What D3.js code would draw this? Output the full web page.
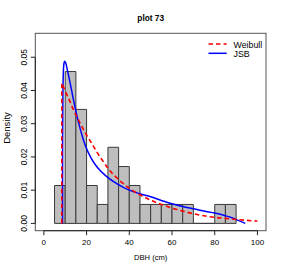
<!DOCTYPE html>
<html>
<head>
<meta charset="utf-8">
<script src="https://cdn.jsdelivr.net/npm/d3@7"></script>
<style>
  body { margin: 0; background: #fff; }
  text { font-family: 'Liberation Sans', Arial, sans-serif; fill: #000; }
</style>
</head>
<body>
<svg width="284" height="273"></svg>
<script>
// histogram bins (left edge, bin width 5) and densities
const binLeft = [5, 10, 15, 20, 25, 30, 35, 40, 45, 50, 55, 60, 65, 70, 75, 80, 85];
const binDensity = [0.0114, 0.0457, 0.0343, 0.0114, 0.0057, 0.0229, 0.0171, 0.0114,
    0.0057, 0.0057, 0.0057, 0.0057, 0.0057, 0, 0, 0.0057, 0.0057];
const binWidth = 5;

// fitted curves, points
const weibullX = [8.4, 8.42, 9, 10, 12, 14, 16, 18, 20, 22, 25, 28, 31, 35, 40, 45, 50,
    55, 60, 65, 70, 75, 80, 85, 90, 95, 100];
const weibullY = [0, 0.0422, 0.0414, 0.0398, 0.0370, 0.0340, 0.0314, 0.0289, 0.0266,
    0.0245, 0.0213, 0.0184, 0.0158, 0.0132, 0.0106, 0.0086, 0.0070, 0.0057, 0.0046,
    0.0037, 0.0029, 0.0023, 0.0018, 0.0015, 0.0012, 0.0009, 0.0007];

const jsbX = [8.75, 8.8, 8.95, 9.2, 9.5, 9.8, 10.3, 11, 12, 13, 14, 15, 16, 17, 18,
    19.5, 22, 25, 29.6, 34.3, 40, 45, 50, 55, 60, 65, 70, 75, 80, 85, 88, 91, 94.3];
const jsbY = [0, 0.025, 0.040, 0.0465, 0.0484, 0.0488, 0.0482, 0.0462, 0.0432, 0.0400,
    0.0368, 0.0338, 0.0310, 0.0285, 0.0262, 0.0233, 0.0198, 0.0169, 0.0140, 0.0119,
    0.0100, 0.0089, 0.0080, 0.0069, 0.0059, 0.0051, 0.0044, 0.0037, 0.0031, 0.0023,
    0.0017, 0.0009, 0];

const xTicks = [0, 20, 40, 60, 80, 100];
const yTicks = [0, 0.01, 0.02, 0.03, 0.04, 0.05];
const legendLabels = ['Weibull', 'JSB'];

const svg = d3.select('svg');
const plotLeft = 35.3, plotRight = 266, plotTop = 33.3, plotBottom = 230.7;

const x = d3.scaleLinear().domain([-4, 104]).range([plotLeft, plotRight]);
const y = d3.scaleLinear().domain([-0.0022, 0.0572]).range([plotBottom, plotTop]);

// bars (zero-height bins still get their baseline, like R)
svg.append('g')
    .selectAll('path')
    .data(binLeft.map((b, i) => ({ x0: b, x1: b + binWidth, d: binDensity[i] })))
    .enter().append('path')
    .attr('d', d => {
        const x0 = x(d.x0), x1 = x(d.x1), y0 = y(0), y1 = y(d.d);
        return `M${x0},${y0}L${x0},${y1}L${x1},${y1}L${x1},${y0}Z`;
    })
    .attr('fill', '#bebebe')
    .attr('stroke', '#3a3a3a')
    .attr('stroke-width', 1);

const line = d3.line()
    .x(d => x(d[0]))
    .y(d => y(d[1]))
    .curve(d3.curveMonotoneX);

svg.append('path')
    .datum(jsbX.map((v, i) => [v, jsbY[i]]))
    .attr('d', line)
    .attr('fill', 'none')
    .attr('stroke', '#0000ff')
    .attr('stroke-width', 1.5);

svg.append('path')
    .datum(weibullX.map((v, i) => [v, weibullY[i]]))
    .attr('d', line)
    .attr('fill', 'none')
    .attr('stroke', '#ff0000')
    .attr('stroke-width', 1.6)
    .attr('stroke-dasharray', '4.5,3');

// box
svg.append('rect')
    .attr('x', plotLeft).attr('y', plotTop)
    .attr('width', plotRight - plotLeft).attr('height', plotBottom - plotTop)
    .attr('fill', 'none')
    .attr('stroke', '#555')
    .attr('stroke-width', 1);

// x axis
const xAxis = svg.append('g');
xAxis.append('line')
    .attr('x1', x(0)).attr('x2', x(100))
    .attr('y1', plotBottom).attr('y2', plotBottom)
    .attr('stroke', '#222');
xAxis.selectAll('.tick')
    .data(xTicks)
    .enter().append('line')
    .attr('x1', d => x(d)).attr('x2', d => x(d))
    .attr('y1', plotBottom).attr('y2', plotBottom + 4.5)
    .attr('stroke', '#222');
xAxis.selectAll('text')
    .data(xTicks)
    .enter().append('text')
    .attr('x', d => x(d))
    .attr('y', 242.7)
    .attr('text-anchor', 'middle')
    .attr('dominant-baseline', 'central')
    .attr('font-size', 8)
    .text(d => d);

// y axis
const yAxis = svg.append('g');
yAxis.append('line')
    .attr('x1', plotLeft).attr('x2', plotLeft)
    .attr('y1', y(0)).attr('y2', y(0.05))
    .attr('stroke', '#222');
yAxis.selectAll('.tick')
    .data(yTicks)
    .enter().append('line')
    .attr('x1', plotLeft - 4.5).attr('x2', plotLeft)
    .attr('y1', d => y(d)).attr('y2', d => y(d))
    .attr('stroke', '#222');
yAxis.selectAll('text')
    .data(yTicks)
    .enter().append('text')
    .attr('transform', d => `translate(23.5,${y(d)}) rotate(-90)`)
    .attr('text-anchor', 'middle')
    .attr('dominant-baseline', 'central')
    .attr('font-size', 8.5)
    .text(d => d3.format('.2f')(d));

// titles
svg.append('text')
    .attr('x', 150.7).attr('y', 17.7)
    .attr('text-anchor', 'middle')
    .attr('dominant-baseline', 'central')
    .attr('font-size', 8.3)
    .attr('font-weight', 'bold')
    .text('plot 73');

svg.append('text')
    .attr('x', 150.7).attr('y', 257)
    .attr('text-anchor', 'middle')
    .attr('dominant-baseline', 'central')
    .attr('font-size', 7.6)
    .text('DBH (cm)');

svg.append('text')
    .attr('transform', `translate(6,${(plotTop + plotBottom) / 2 - 4}) rotate(-90)`)
    .attr('text-anchor', 'middle')
    .attr('dominant-baseline', 'central')
    .attr('font-size', 9.5)
    .text('Density');

// legend, no frame
const legend = svg.append('g');
const legendRows = [
    { label: legendLabels[0], color: '#ff0000', dash: '4.5,3', w: 1.6, y: 44 },
    { label: legendLabels[1], color: '#0000ff', dash: null, w: 1.5, y: 53.3 }
];
legend.selectAll('line')
    .data(legendRows)
    .enter().append('line')
    .attr('x1', 208.5).attr('x2', 226.7)
    .attr('y1', d => d.y).attr('y2', d => d.y)
    .attr('stroke', d => d.color)
    .attr('stroke-width', d => d.w)
    .attr('stroke-dasharray', d => d.dash);
legend.selectAll('text')
    .data(legendRows)
    .enter().append('text')
    .attr('x', 233.5)
    .attr('y', d => d.y + 0.6)
    .attr('dominant-baseline', 'central')
    .attr('font-size', 8.8)
    .text(d => d.label);
</script>
</body>
</html>
